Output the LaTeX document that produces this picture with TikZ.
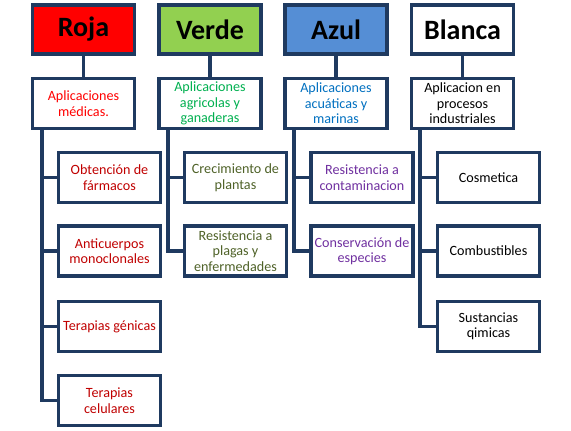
\documentclass[tikz,border=0pt]{standalone}
\usepackage{fontspec}
\setmainfont{Carlito}
\definecolor{frame}{HTML}{1F3A60}
\definecolor{rojaF}{HTML}{FF0000}
\definecolor{verdeF}{HTML}{92D050}
\definecolor{azulF}{HTML}{558ED5}
\definecolor{redT}{HTML}{FF0000}
\definecolor{darkredT}{HTML}{C00000}
\definecolor{greenT}{HTML}{00B050}
\definecolor{oliveT}{HTML}{4F6228}
\definecolor{blueT}{HTML}{0070C0}
\definecolor{purpleT}{HTML}{7030A0}
\tikzset{
  box/.style={draw=frame, line width=2.8pt, fill=white, minimum width=76.5pt, minimum height=37.5pt, inner sep=0pt, align=center, font=\fontsize{10.6}{11.6}\selectfont},
  titlebox/.style={box, minimum height=36.75pt, font=\fontsize{21}{24}\selectfont\bfseries},
  conn/.style={draw=frame, line width=2.8pt}
}
\begin{document}
\begin{tikzpicture}[x=0.75pt,y=-0.75pt]
\useasboundingbox (0,0) rectangle (571,430);
% top row
\node[titlebox, fill=rojaF] (roja) at (83.5,29.5) {Roja};
\node[titlebox, fill=verdeF] (verde) at (210,29.5) {Verde};
\node[titlebox, fill=azulF] (azul) at (336,29.5) {Azul};
\node[titlebox] (blanca) at (462.5,29.5) {Blanca};
% second row
\node[box, text=redT] (r0) at (83.5,103.5) {Aplicaciones\\médicas.};
\node[box, text=greenT] (v0) at (210,103.5) {Aplicaciones\\agricolas y\\ganaderas};
\node[box, text=blueT] (a0) at (336,103.5) {Aplicaciones\\acuáticas y\\marinas};
\node[box] (b0) at (462.5,103.5) {Aplicacion en\\procesos\\industriales};
% children
\node[box, text=darkredT] (r1) at (109.5,177.5) {Obtención de\\fármacos};
\node[box, text=darkredT] (r2) at (109.5,251) {Anticuerpos\\monoclonales};
\node[box, text=darkredT] (r3) at (109.5,326.5) {Terapias génicas};
\node[box, text=darkredT] (r4) at (109.5,400.5) {Terapias\\celulares};
\node[box, text=oliveT] (v1) at (235.5,177.5) {Crecimiento de\\plantas};
\node[box, text=oliveT] (v2) at (235.5,251) {Resistencia a\\plagas y\\enfermedades};
\node[box, text=purpleT] (a1) at (362,177.5) {Resistencia a\\contaminacion};
\node[box, text=purpleT] (a2) at (362,251) {Conservación de\\especies};
\node[box] (b1) at (488.5,177.5) {Cosmetica};
\node[box] (b2) at (488.5,251) {Combustibles};
\node[box] (b3) at (488.5,326.5) {Sustancias\\qimicas};
% connectors top to second
\draw[conn] (roja) -- (r0);
\draw[conn] (verde) -- (v0);
\draw[conn] (azul) -- (a0);
\draw[conn] (blanca) -- (b0);
% tree spines
\coordinate (rx) at (42,128.5);
\coordinate (vx) at (168,128.5);
\coordinate (ax) at (294,128.5);
\coordinate (bx) at (420,128.5);
\draw[conn] (rx) |- (r4.west);
\draw[conn] (rx |- r1.west) -- (r1.west);
\draw[conn] (rx |- r2.west) -- (r2.west);
\draw[conn] (rx |- r3.west) -- (r3.west);
\draw[conn] (vx) |- (v2.west);
\draw[conn] (vx |- v1.west) -- (v1.west);
\draw[conn] (ax) |- (a2.west);
\draw[conn] (ax |- a1.west) -- (a1.west);
\draw[conn] (bx) |- (b3.west);
\draw[conn] (bx |- b1.west) -- (b1.west);
\draw[conn] (bx |- b2.west) -- (b2.west);
\end{tikzpicture}
\end{document}
